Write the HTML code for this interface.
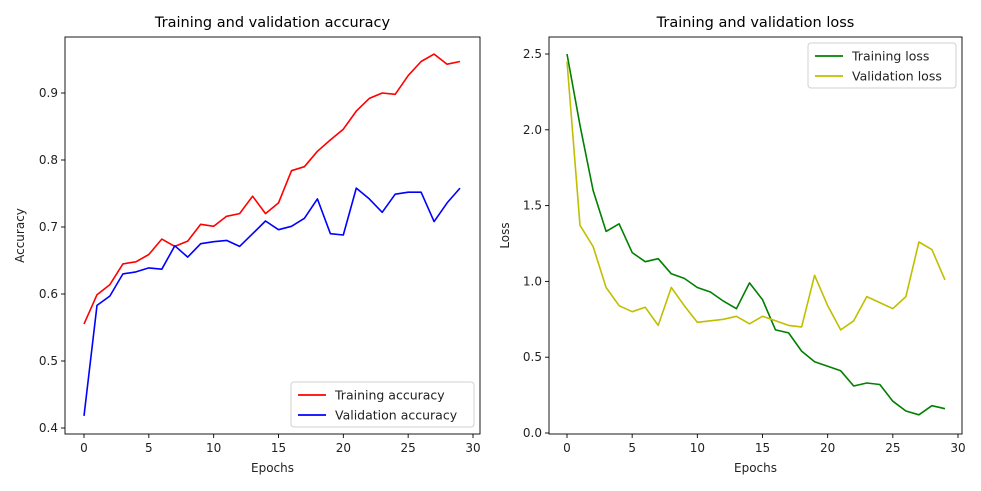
<!DOCTYPE html>
<html><head><meta charset="utf-8">
<style>
html,body{margin:0;padding:0;background:#fff;}
svg{display:block;font-family:"DejaVu Sans","Liberation Sans",sans-serif;}
</style></head>
<body>
<svg id="chart" width="981" height="491" viewBox="0 0 981 491"></svg>
<script>
const epochs = [0,1,2,3,4,5,6,7,8,9,10,11,12,13,14,15,16,17,18,19,20,21,22,23,24,25,26,27,28,29];
const trainAcc = [0.555,0.599,0.614,0.645,0.648,0.659,0.682,0.671,0.679,0.704,0.701,0.716,0.720,0.746,0.720,0.736,0.784,0.790,0.813,0.830,0.846,0.873,0.892,0.900,0.898,0.926,0.947,0.958,0.943,0.947];
const valAcc = [0.418,0.583,0.597,0.630,0.633,0.639,0.637,0.672,0.655,0.675,0.678,0.680,0.671,0.690,0.709,0.696,0.701,0.713,0.742,0.690,0.688,0.758,0.742,0.722,0.749,0.752,0.752,0.708,0.736,0.758];
const trainLoss = [2.50,2.03,1.60,1.33,1.38,1.19,1.13,1.15,1.05,1.02,0.96,0.93,0.87,0.82,0.99,0.88,0.68,0.66,0.54,0.47,0.44,0.41,0.31,0.33,0.32,0.21,0.145,0.12,0.18,0.16];
const valLoss = [2.45,1.37,1.23,0.96,0.84,0.80,0.83,0.71,0.96,0.84,0.73,0.74,0.75,0.77,0.72,0.77,0.74,0.71,0.70,1.04,0.84,0.68,0.74,0.90,0.86,0.82,0.90,1.26,1.21,1.01];
const xTicks = [0,5,10,15,20,25,30];
const accTicks = [0.4,0.5,0.6,0.7,0.8,0.9];
const lossTicks = [0.0,0.5,1.0,1.5,2.0,2.5];

const NS = "http://www.w3.org/2000/svg";
const svg = document.getElementById('chart');
function mk(tag, attrs, parent){
  const e = document.createElementNS(NS, tag);
  for (const k in attrs) e.setAttribute(k, attrs[k]);
  (parent||svg).appendChild(e);
  return e;
}

function panel(cfg){
  const g = mk('g', {});
  
  
  const xs = v => cfg.x0 + (v - 0) * (cfg.x30 - cfg.x0) / 30;
  const ys = v => cfg.yA + (v - cfg.vA) * (cfg.yB - cfg.yA) / (cfg.vB - cfg.vA);
  cfg.series.forEach(s => {
    const pts = epochs.map((e,i) => xs(e).toFixed(1) + ',' + ys(s.data[i]).toFixed(1)).join(' ');
    const pl = mk('polyline', {points: pts, fill:'none', stroke:s.color, 'stroke-width':1.6, 'stroke-linejoin':'round'}, g);
    
    
  });
  const fr = mk('rect', {x:cfg.L, y:cfg.T, width:cfg.R-cfg.L, height:cfg.B-cfg.T, fill:'none', stroke:'#000', 'stroke-width':0.9}, g);
  
  
  xTicks.forEach(t => {
    const x = xs(t);
    mk('line', {x1:x, x2:x, y1:cfg.B, y2:cfg.B+4, stroke:'#000', 'stroke-width':0.9}, g);
    const tx = mk('text', {x:x, y:cfg.B+18, 'font-size':12, 'text-anchor':'middle', fill:'#222'}, g);
    tx.textContent = t;
    
    
  });
  cfg.yTicks.forEach(t => {
    const y = ys(t);
    mk('line', {x1:cfg.L-4, x2:cfg.L, y1:y, y2:y, stroke:'#000', 'stroke-width':0.9}, g);
    const tx = mk('text', {x:cfg.L-7, y:y+4, 'font-size':12, 'text-anchor':'end', fill:'#222'}, g);
    tx.textContent = t.toFixed(1);
    
    
  });
  const ti = mk('text', {x:(cfg.L+cfg.R)/2, y:cfg.T-10, 'font-size':14.5, 'text-anchor':'middle', fill:'#000'}, g);
  ti.textContent = cfg.title;
  
  
  const xl = mk('text', {x:(cfg.L+cfg.R)/2, y:cfg.B+38, 'font-size':12, 'text-anchor':'middle', fill:'#222'}, g);
  xl.textContent = 'Epochs';
  
  
  const yl = mk('text', {x:cfg.ylx, y:(cfg.T+cfg.B)/2, 'font-size':12, 'text-anchor':'middle', fill:'#222', transform:'rotate(-90 '+cfg.ylx+' '+((cfg.T+cfg.B)/2)+')'}, g);
  yl.textContent = cfg.ylabel;
  
  
  const lg = mk('g', {}, g);
  
  
  mk('rect', {x:cfg.lg.x, y:cfg.lg.y, width:cfg.lg.w, height:45, rx:3, fill:'#fff', 'fill-opacity':0.8, stroke:'#d0d0d0', 'stroke-width':1}, lg);
  cfg.series.forEach((s,i) => {
    const yy = cfg.lg.y + 13 + i*20;
    mk('line', {x1:cfg.lg.x+7, x2:cfg.lg.x+35, y1:yy, y2:yy, stroke:s.color, 'stroke-width':1.8}, lg);
    const t = mk('text', {x:cfg.lg.x+44, y:yy+4.5, 'font-size':12.5, fill:'#222'}, lg);
    t.textContent = s.label;
    
    
  });
}

panel({name:'accuracy-chart', title:'Training and validation accuracy', ylabel:'Accuracy',
  L:65, R:480, T:37, B:434, x0:84, x30:473, vA:0.4, yA:428, vB:0.9, yB:93, ylx:24,
  yTicks:accTicks,
  series:[{id:'training-accuracy-line', label:'Training accuracy', color:'#ff0000', data:trainAcc},
          {id:'validation-accuracy-line', label:'Validation accuracy', color:'#0000ff', data:valAcc}],
  lg:{x:291, y:382, w:183}});
panel({name:'loss-chart', title:'Training and validation loss', ylabel:'Loss',
  L:549, R:962, T:37, B:434, x0:567, x30:958, vA:0.0, yA:433, vB:2.5, yB:54, ylx:509,
  yTicks:lossTicks,
  series:[{id:'training-loss-line', label:'Training loss', color:'#008000', data:trainLoss},
          {id:'validation-loss-line', label:'Validation loss', color:'#bfbf00', data:valLoss}],
  lg:{x:808, y:43, w:148}});
</script>
</body></html>
